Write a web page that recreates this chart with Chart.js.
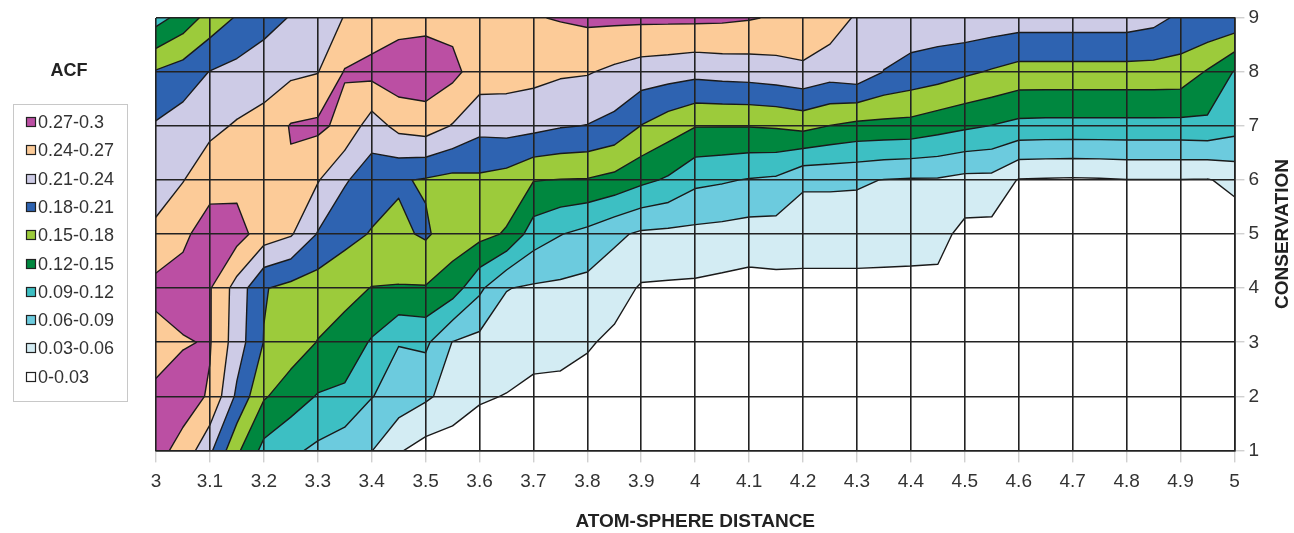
<!DOCTYPE html>
<html>
<head>
<meta charset="utf-8">
<script src="https://cdn.jsdelivr.net/npm/chart.js@4.4.1/dist/chart.umd.min.js"></script>
<style>
  html, body { margin: 0; padding: 0; background: #fff; }
  #wrap { width: 1294px; height: 533px; position: relative; }
</style>
</head>
<body>
<div id="wrap"><canvas id="acfChart"></canvas></div>
<script>
// grid of the contour table: atom-sphere distance (columns) x conservation (rows)
const xValues = [3.00, 3.05, 3.10, 3.15, 3.20, 3.25, 3.30, 3.35, 3.40, 3.45,
                 3.50, 3.55, 3.60, 3.65, 3.70, 3.75, 3.80, 3.85, 3.90, 3.95,
                 4.00, 4.05, 4.10, 4.15, 4.20, 4.25, 4.30, 4.35, 4.40, 4.45,
                 4.50, 4.55, 4.60, 4.65, 4.70, 4.75, 4.80, 4.85, 4.90, 4.95, 5.00];
const yValues = [1, 2, 3, 4, 5, 6, 7, 8, 9];

const xTicks = [3, 3.1, 3.2, 3.3, 3.4, 3.5, 3.6, 3.7, 3.8, 3.9, 4, 4.1, 4.2, 4.3, 4.4, 4.5, 4.6, 4.7, 4.8, 4.9, 5];
const yTicks = [1, 2, 3, 4, 5, 6, 7, 8, 9];

// ACF values, one row per conservation level
const acf1 = [0.279, 0.261, 0.216, 0.156, 0.111, 0.096, 0.084, 0.072, 0.061, 0.033,
              0.018, 0.015, 0.014, 0.012, 0.011, 0.009, 0.009, 0.008, 0.008, 0.006,
              0.006, 0.006, 0.006, 0.006, 0.006, 0.006, 0.006, 0.006, 0.006, 0.006,
              0.006, 0.005, 0.005, 0.005, 0.005, 0.005, 0.005, 0.005, 0.005, 0.005, 0.003];
const acf2 = [0.276, 0.282, 0.267, 0.204, 0.153, 0.135, 0.118, 0.114, 0.091, 0.078,
              0.065, 0.048, 0.033, 0.029, 0.023, 0.022, 0.018, 0.015, 0.014, 0.012,
              0.012, 0.011, 0.011, 0.011, 0.011, 0.011, 0.011, 0.011, 0.011, 0.010,
              0.009, 0.008, 0.008, 0.008, 0.008, 0.008, 0.008, 0.008, 0.008, 0.008, 0.006];
const acf3 = [0.258, 0.268, 0.272, 0.225, 0.179, 0.165, 0.149, 0.138, 0.117, 0.091,
              0.096, 0.059, 0.051, 0.045, 0.040, 0.039, 0.033, 0.024, 0.018, 0.018,
              0.018, 0.017, 0.015, 0.015, 0.015, 0.015, 0.015, 0.015, 0.015, 0.014,
              0.014, 0.012, 0.011, 0.011, 0.011, 0.011, 0.011, 0.011, 0.011, 0.011, 0.009];
const acf4 = [0.279, 0.282, 0.272, 0.228, 0.182, 0.171, 0.165, 0.159, 0.149, 0.148,
              0.148, 0.135, 0.096, 0.061, 0.056, 0.054, 0.051, 0.042, 0.027, 0.026,
              0.025, 0.022, 0.019, 0.021, 0.023, 0.023, 0.023, 0.023, 0.023, 0.022,
              0.018, 0.015, 0.014, 0.014, 0.014, 0.014, 0.014, 0.014, 0.014, 0.014, 0.011];
const acf5 = [0.247, 0.264, 0.285, 0.282, 0.255, 0.243, 0.208, 0.189, 0.178, 0.174,
              0.184, 0.165, 0.159, 0.147, 0.105, 0.091, 0.081, 0.066, 0.055, 0.053,
              0.052, 0.050, 0.047, 0.047, 0.042, 0.042, 0.042, 0.041, 0.040, 0.040,
              0.021, 0.020, 0.017, 0.017, 0.017, 0.017, 0.017, 0.017, 0.017, 0.017, 0.012];
const acf6 = [0.225, 0.239, 0.258, 0.261, 0.264, 0.266, 0.242, 0.213, 0.195, 0.183,
              0.177, 0.171, 0.174, 0.168, 0.151, 0.149, 0.148, 0.141, 0.127, 0.116,
              0.097, 0.093, 0.088, 0.085, 0.065, 0.065, 0.064, 0.059, 0.057, 0.057,
              0.051, 0.051, 0.028, 0.027, 0.026, 0.027, 0.029, 0.029, 0.029, 0.028, 0.038];
const acf7 = [0.213, 0.223, 0.233, 0.243, 0.249, 0.272, 0.276, 0.262, 0.225, 0.249,
              0.255, 0.238, 0.219, 0.222, 0.219, 0.212, 0.209, 0.201, 0.179, 0.164,
              0.151, 0.151, 0.151, 0.153, 0.159, 0.149, 0.142, 0.141, 0.140, 0.132,
              0.125, 0.119, 0.112, 0.111, 0.111, 0.111, 0.111, 0.111, 0.111, 0.113, 0.102];
const acf8 = [0.183, 0.194, 0.211, 0.219, 0.228, 0.234, 0.239, 0.272, 0.279, 0.288,
              0.288, 0.278, 0.255, 0.252, 0.249, 0.244, 0.242, 0.234, 0.226, 0.223,
              0.219, 0.222, 0.224, 0.228, 0.233, 0.224, 0.230, 0.209, 0.200, 0.194,
              0.185, 0.177, 0.169, 0.169, 0.169, 0.169, 0.169, 0.169, 0.168, 0.147, 0.118];
const acf9 = [0.108, 0.132, 0.162, 0.183, 0.198, 0.212, 0.228, 0.241, 0.252, 0.258,
              0.261, 0.261, 0.266, 0.267, 0.268, 0.272, 0.276, 0.276, 0.276, 0.276,
              0.276, 0.275, 0.272, 0.267, 0.266, 0.255, 0.236, 0.231, 0.228, 0.228,
              0.231, 0.228, 0.225, 0.225, 0.225, 0.225, 0.225, 0.219, 0.204, 0.207, 0.204];
const acfGrid = [acf1, acf2, acf3, acf4, acf5, acf6, acf7, acf8, acf9];

// contour bands (lower bound of each band)
const bandLevels = [0, 0.03, 0.06, 0.09, 0.12, 0.15, 0.18, 0.21, 0.24, 0.27];
const bandLabels = ['0-0.03', '0.03-0.06', '0.06-0.09', '0.09-0.12', '0.12-0.15',
                    '0.15-0.18', '0.18-0.21', '0.21-0.24', '0.24-0.27', '0.27-0.3'];
const bandColors = ['#ffffff', '#d3ecf3', '#6ccbde', '#3dbfc3', '#00873f',
                    '#9ccb3b', '#2e63b1', '#cdcbe6', '#fccb98', '#bb4fa3'];

const FONT = "'Liberation Sans', Arial, sans-serif";
const TEXT = '#333';

// part of one grid cell where acf >= t, plus the points where the contour crosses the cell edges
function cellRing(i, j, t) {
    const corners = [[i, j], [i + 1, j], [i + 1, j + 1], [i, j + 1]];
    const pts = [];
    const cross = [];
    for (let c = 0; c < 4; c++) {
        const [ai, aj] = corners[c];
        const [bi, bj] = corners[(c + 1) % 4];
        const va = acfGrid[aj][ai];
        const vb = acfGrid[bj][bi];
        if (va >= t) pts.push([xValues[ai], yValues[aj]]);
        if ((va >= t) !== (vb >= t)) {
            const f = (t - va) / (vb - va);
            const p = [xValues[ai] + f * (xValues[bi] - xValues[ai]),
                       yValues[aj] + f * (yValues[bj] - yValues[aj])];
            pts.push(p);
            cross.push({p: p, exit: va >= t});
        }
    }
    return {pts, cross};
}

const contourPlugin = {
    id: 'contour',
    beforeDatasetsDraw(chart) {
        const {ctx, chartArea: area, scales} = chart;
        const px = v => scales.x.getPixelForValue(v);
        const py = v => scales.y.getPixelForValue(v);

        ctx.save();
        ctx.beginPath();
        ctx.rect(area.left, area.top, area.width, area.height);
        ctx.clip();
        ctx.fillStyle = bandColors[0];
        ctx.fillRect(area.left, area.top, area.width, area.height);

        for (let k = 1; k < bandLevels.length; k++) {
            ctx.beginPath();
            for (let j = 0; j < yValues.length - 1; j++) {
                for (let i = 0; i < xValues.length - 1; i++) {
                    const {pts} = cellRing(i, j, bandLevels[k]);
                    if (pts.length < 3) continue;
                    pts.forEach((p, n) => n ? ctx.lineTo(px(p[0]), py(p[1])) : ctx.moveTo(px(p[0]), py(p[1])));
                    ctx.closePath();
                }
            }
            ctx.fillStyle = bandColors[k];
            ctx.fill();
        }

        // black outlines between the bands
        ctx.beginPath();
        for (let k = 1; k < bandLevels.length; k++) {
            for (let j = 0; j < yValues.length - 1; j++) {
                for (let i = 0; i < xValues.length - 1; i++) {
                    const {cross} = cellRing(i, j, bandLevels[k]);
                    for (let n = 0; n < cross.length; n++) {
                        if (!cross[n].exit) continue;
                        const a = cross[n].p;
                        const b = cross[(n + 1) % cross.length].p;
                        ctx.moveTo(px(a[0]), py(a[1]));
                        ctx.lineTo(px(b[0]), py(b[1]));
                    }
                }
            }
        }
        ctx.strokeStyle = '#1a1a1a';
        ctx.lineWidth = 1.4;
        ctx.lineCap = 'round';
        ctx.lineJoin = 'round';
        ctx.stroke();
        ctx.restore();
    }
};

// legend box on the left and the rotated right-hand axis title
const sidePlugin = {
    id: 'acfLegend',
    afterDraw(chart) {
        const {ctx} = chart;
        ctx.save();
        ctx.fillStyle = '#222';
        ctx.textAlign = 'center';
        ctx.textBaseline = 'middle';
        ctx.font = 'bold 18px ' + FONT;
        ctx.fillText('ACF', 69, 71);

        ctx.strokeStyle = '#c8c8c8';
        ctx.lineWidth = 1;
        ctx.strokeRect(13.5, 104.5, 114, 297);

        ctx.textAlign = 'left';
        ctx.font = '18px ' + FONT;
        for (let n = 0; n < bandLabels.length; n++) {
            const k = bandLabels.length - 1 - n;
            const cy = Math.round(122 + n * 28.3);
            ctx.fillStyle = bandColors[k];
            ctx.fillRect(26.5, cy - 4.5, 9, 9);
            ctx.strokeStyle = '#222';
            ctx.lineWidth = 1.2;
            ctx.strokeRect(26.5, cy - 4.5, 9, 9);
            ctx.fillStyle = TEXT;
            ctx.fillText(bandLabels[k], 38, cy + 1);
        }

        ctx.translate(1283, 234);
        ctx.rotate(-Math.PI / 2);
        ctx.textAlign = 'center';
        ctx.fillStyle = '#222';
        ctx.font = 'bold 19px ' + FONT;
        ctx.fillText('CONSERVATION', 0, 0);
        ctx.restore();
    }
};

new Chart(document.getElementById('acfChart'), {
    type: 'scatter',
    data: { datasets: [] },
    plugins: [contourPlugin, sidePlugin],
    options: {
        responsive: true,
        maintainAspectRatio: false,
        animation: false,
        layout: {
            padding: { left: 156, top: 18, right: 31, bottom: 0 }
        },
        plugins: {
            legend: { display: false },
            tooltip: { enabled: false }
        },
        scales: {
            x: {
                type: 'linear',
                min: 3,
                max: 5,
                afterBuildTicks: axis => { axis.ticks = xTicks.map(v => ({value: v})); },
                ticks: {
                    autoSkip: false,
                    maxRotation: 0,
                    padding: 8,
                    color: TEXT,
                    font: { family: FONT, size: 19 },
                    callback: v => String(+v.toFixed(1))
                },
                grid: { color: '#222', lineWidth: 1.6, tickLength: 12, tickColor: '#bdbdbd', tickWidth: 1, z: 1 },
                border: { color: '#222', width: 1.6, z: 1 },
                title: {
                    display: true,
                    text: 'ATOM-SPHERE DISTANCE',
                    color: '#222',
                    font: { family: FONT, size: 19, weight: 'bold' },
                    padding: { top: 9, bottom: 0 }
                }
            },
            y: {
                type: 'linear',
                position: 'right',
                min: 1,
                max: 9,
                afterBuildTicks: axis => { axis.ticks = yTicks.map(v => ({value: v})); },
                ticks: {
                    padding: 4,
                    color: TEXT,
                    font: { family: FONT, size: 19 }
                },
                grid: { color: '#222', lineWidth: 1.6, tickLength: 10, tickColor: '#bdbdbd', tickWidth: 1, z: 1 },
                border: { color: '#222', width: 1.6, z: 1 }
            }
        }
    }
});
</script>
</body>
</html>
